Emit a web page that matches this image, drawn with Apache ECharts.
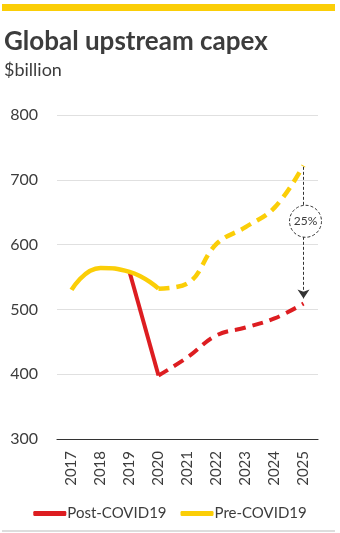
<!DOCTYPE html>
<html><head><meta charset="utf-8">
<script src="https://cdn.jsdelivr.net/npm/echarts@6/dist/echarts.min.js"></script>
<style>html,body{margin:0;padding:0;background:#fff}#c{width:340px;height:533px}</style>
</head><body><div id="c"></div>
<script>
var years = ['2017','2018','2019','2020','2021','2022','2023','2024','2025'];
var preSolid  = [530, 564, 558, 532, null, null, null, null, null];
var preDashed = [null, null, null, 532, 540, 601, 627, 657, 722];
var postSolid = [null, null, 558, 398, null, null, null, null, null];
var postDashed= [null, null, null, 398, 426, 460, 472, 486, 509];
var yTicks = [300, 400, 500, 600, 700, 800];
var gapLabel = '25%';
var RED = '#DD1D21', YEL = '#FBCE07', TXT = '#3c3c3c';
var FONT = 'Lato, "Open Sans", sans-serif';
var chart = echarts.init(document.getElementById('c'));
chart.setOption({
  animation: false,
  textStyle: {fontFamily: FONT},
  title: [
    {text: 'Global upstream capex', left: -1, top: 24, textStyle: {fontSize: 26, fontWeight: 'bold', color: TXT, fontFamily: FONT}},
    {text: '$billion', left: -1, top: 56, textStyle: {fontSize: 18, fontWeight: 'normal', color: TXT, fontFamily: FONT}}
  ],
  graphic: [
    {type: 'rect', shape: {x: 2, y: 4, width: 333, height: 7}, style: {fill: YEL}},
    {type: 'line', shape: {x1: 2, y1: 531, x2: 335, y2: 531}, style: {stroke: '#bbb', lineWidth: 1}}
  ],
  grid: {left: 57, right: 22, top: 115, bottom: 94},
  legend: {
    bottom: 7, left: 'center', itemGap: 14, itemWidth: 33, itemHeight: 5, icon: 'roundRect',
    textStyle: {fontSize: 15, color: TXT, fontFamily: FONT, padding: [0,0,0,-4]},
    data: ['Post-COVID19', 'Pre-COVID19']
  },
  xAxis: {
    type: 'category', data: years, boundaryGap: true,
    axisLine: {lineStyle: {color: '#333', width: 1.2}},
    axisTick: {show: false},
    axisLabel: {rotate: 90, fontSize: 15, color: TXT, margin: 12, fontFamily: FONT}
  },
  yAxis: {
    type: 'value', min: yTicks[0], max: yTicks[yTicks.length-1], interval: 100,
    axisLine: {show: false}, axisTick: {show: false},
    axisLabel: {fontSize: 16, color: TXT, margin: 19, fontFamily: FONT},
    splitLine: {lineStyle: {color: '#e0e0e0', width: 1}}
  },
  series: [
    {name: 'Pre-COVID19', type: 'line', data: preSolid, smooth: 0.5, showSymbol: false, color: YEL,
     lineStyle: {color: YEL, width: 4.5}, z: 3},
    {name: 'Pre-COVID19 f', type: 'line', data: preDashed, smooth: 0.4, showSymbol: false, color: YEL,
     lineStyle: {color: YEL, width: 4.5, type: [11, 7]}, z: 3},
    {name: 'Post-COVID19', type: 'line', data: postSolid, smooth: 0.3, showSymbol: false, color: RED,
     lineStyle: {color: RED, width: 4}, z: 2},
    {name: 'Post-COVID19 f', type: 'line', data: postDashed, smooth: 0.4, showSymbol: false, color: RED,
     lineStyle: {color: RED, width: 4, type: [11, 7]}, z: 2,
     markLine: {silent: true, symbol: ['none', 'arrow'], symbolSize: [9, 9],
       lineStyle: {color: '#333', width: 1, type: [3, 2]}, label: {show: false},
       data: [[{coord: ['2025', 720]}, {coord: ['2025', 517]}]]},
     markPoint: {silent: true, symbol: 'circle', symbolSize: 32, symbolOffset: [2, 0],
       itemStyle: {color: '#fff', borderColor: '#333', borderWidth: 1, borderType: [3, 2]},
       label: {show: true, formatter: gapLabel, color: TXT, fontSize: 12, fontFamily: FONT},
       data: [{coord: ['2025', 636]}]}
    }
  ]
});
</script></body></html>
